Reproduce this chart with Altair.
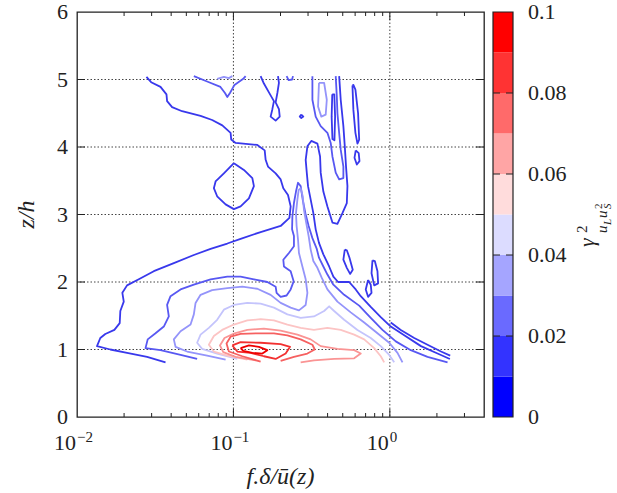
import altair as alt
import pandas as pd

SERIF = "Liberation Serif"
INK = "#222222"

# contour levels of the coherence and the colour of each level
LEVELS = [0.01, 0.02, 0.03, 0.04, 0.05, 0.06, 0.07, 0.08, 0.09]
LEVEL_COLORS = ["#3838ec", "#5858f2", "#9494fa", "#c4c4fc", "#fcc4c4",
                "#fa9494", "#f66060", "#f23030", "#ee0000"]

# colour bar bands (lower edge, upper edge, colour)
CB_LO = [0.00, 0.01, 0.02, 0.03, 0.04, 0.05, 0.06, 0.07, 0.08, 0.09]
CB_HI = [0.01, 0.02, 0.03, 0.04, 0.05, 0.06, 0.07, 0.08, 0.09, 0.10]
CB_COLORS = ["#0000ff", "#3333ff", "#6a6aff", "#a5a5ff", "#dcdcff",
             "#ffdcdc", "#ffa5a5", "#ff6a6a", "#ff3333", "#ff0000"]
CB_TICKS = [0.02, 0.04, 0.06, 0.08]
CB_LABELS = [0, 0.02, 0.04, 0.06, 0.08, 0.1]
CB_LABEL_TEXT = ["0", "0.02", "0.04", "0.06", "0.08", "0.1"]

# axis values
X_LABELS = [0.01, 0.1, 1.0]
X_EXPONENTS = ["\u22122", "\u22121", "0"]
X_MAJOR = [0.1, 1.0]
X_MINOR = [0.02, 0.03, 0.04, 0.05, 0.06, 0.07, 0.08, 0.09,
           0.2, 0.3, 0.4, 0.5, 0.6, 0.7, 0.8, 0.9, 2.0, 3.0]
Z_GRID = [1, 2, 3, 4, 5]
Z_LABELS = [0, 1, 2, 3, 4, 5, 6]

# contour paths as (log10 f, z/h) vertices
c1_outer = [(-1.556, 5.04), (-1.526, 4.96), (-1.466, 4.89), (-1.428, 4.78), (-1.424, 4.68),
            (-1.392, 4.59), (-1.328, 4.53), (-1.210, 4.46), (-1.136, 4.40), (-1.071, 4.32),
            (-1.018, 4.21), (-1.014, 4.11), (-0.986, 4.06), (-0.847, 4.03), (-0.800, 3.95),
            (-0.794, 3.81), (-0.779, 3.71), (-0.730, 3.61), (-0.698, 3.52), (-0.681, 3.39),
            (-0.651, 3.29), (-0.634, 3.12), (-0.642, 2.95), (-0.698, 2.83), (-0.826, 2.74),
            (-0.954, 2.64), (-1.039, 2.57), (-1.146, 2.49), (-1.253, 2.40), (-1.381, 2.28),
            (-1.509, 2.16), (-1.605, 2.04), (-1.680, 1.95), (-1.710, 1.84), (-1.701, 1.71),
            (-1.723, 1.57), (-1.727, 1.39), (-1.761, 1.29), (-1.819, 1.23), (-1.851, 1.17),
            (-1.872, 1.05), (-1.787, 1.00), (-1.680, 0.95), (-1.552, 0.89), (-1.434, 0.81)]
c1_island = [(-0.997, 3.76), (-0.933, 3.66), (-0.879, 3.54), (-0.869, 3.42), (-0.901, 3.24),
             (-0.954, 3.12), (-0.997, 3.08), (-1.050, 3.15), (-1.104, 3.27), (-1.125, 3.39),
             (-1.114, 3.49), (-1.061, 3.61), (-0.997, 3.76)]
c1_eight = [(-0.826, 5.05), (-0.805, 4.94), (-0.773, 4.81), (-0.741, 4.68), (-0.751, 4.56),
            (-0.762, 4.45), (-0.730, 4.39), (-0.704, 4.45), (-0.709, 4.56), (-0.730, 4.66),
            (-0.719, 4.80), (-0.709, 4.95), (-0.715, 5.05)]
c1_dot = [(-0.566, 4.48), (-0.553, 4.45), (-0.566, 4.43), (-0.576, 4.45), (-0.566, 4.48)]
c1_neck = [(-0.324, 5.05), (-0.314, 4.70), (-0.297, 4.31), (-0.288, 4.01), (-0.280, 3.71),
           (-0.271, 3.42), (-0.275, 3.17), (-0.303, 3.02), (-0.335, 2.86), (-0.367, 2.88),
           (-0.399, 3.12), (-0.425, 3.34), (-0.442, 3.62), (-0.446, 3.86), (-0.463, 4.05),
           (-0.502, 4.09), (-0.527, 4.01), (-0.538, 3.81), (-0.531, 3.62), (-0.523, 3.42),
           (-0.506, 3.22), (-0.489, 3.02), (-0.474, 2.78), (-0.453, 2.58), (-0.425, 2.41),
           (-0.388, 2.23), (-0.361, 2.08), (-0.331, 2.00), (-0.260, 2.00), (-0.218, 1.89),
           (-0.186, 1.79), (-0.122, 1.63), (-0.058, 1.48), (0.006, 1.34), (0.092, 1.21),
           (0.199, 1.05), (0.305, 0.94), (0.384, 0.86)]
c1_tail = [(0.006, 1.40), (0.070, 1.29), (0.156, 1.17), (0.241, 1.07), (0.327, 0.97), (0.386, 0.91)]
c1_strip = [(-0.368, 4.78), (-0.372, 4.45), (-0.367, 4.12), (-0.354, 4.10), (-0.350, 4.45),
            (-0.355, 4.78), (-0.368, 4.78)]
c1_needle = [(-0.239, 4.91), (-0.233, 4.55), (-0.220, 4.21), (-0.207, 4.05), (-0.196, 4.11),
             (-0.203, 4.50), (-0.220, 4.85), (-0.233, 4.92), (-0.239, 4.91)]
c1_drop = [(-0.218, 3.95), (-0.226, 3.84), (-0.211, 3.74), (-0.194, 3.79), (-0.199, 3.91),
           (-0.218, 3.95)]
c1_loop_a = [(-0.288, 2.48), (-0.297, 2.33), (-0.275, 2.21), (-0.254, 2.12), (-0.237, 2.18),
             (-0.258, 2.36), (-0.275, 2.47), (-0.288, 2.48)]
c1_loop_b = [(-0.111, 2.32), (-0.117, 2.13), (-0.100, 1.95), (-0.075, 1.98), (-0.079, 2.16),
             (-0.096, 2.31), (-0.111, 2.32)]
c1_loop_c = [(-0.139, 2.03), (-0.154, 1.89), (-0.139, 1.78), (-0.117, 1.84), (-0.122, 1.96),
             (-0.139, 2.03)]

c2_main = [(-1.232, 0.86), (-1.338, 0.92), (-1.466, 0.99), (-1.562, 1.02), (-1.548, 1.15),
           (-1.498, 1.24), (-1.445, 1.34), (-1.413, 1.49), (-1.424, 1.66), (-1.402, 1.79),
           (-1.338, 1.89), (-1.253, 1.96), (-1.146, 2.04), (-1.039, 2.08), (-0.954, 2.08),
           (-0.869, 2.04), (-0.783, 2.00), (-0.730, 1.93), (-0.724, 1.84), (-0.698, 1.78),
           (-0.660, 1.80), (-0.634, 1.89), (-0.615, 2.01), (-0.634, 2.16), (-0.677, 2.23),
           (-0.681, 2.33), (-0.645, 2.43), (-0.613, 2.53), (-0.613, 2.68), (-0.625, 2.78),
           (-0.623, 2.97), (-0.613, 3.17), (-0.600, 3.34), (-0.587, 3.47), (-0.570, 3.42),
           (-0.557, 3.22), (-0.540, 3.02), (-0.519, 2.83), (-0.495, 2.65), (-0.467, 2.49),
           (-0.453, 2.36), (-0.425, 2.23), (-0.399, 2.11), (-0.361, 1.96), (-0.292, 1.81),
           (-0.196, 1.65), (-0.122, 1.47), (-0.047, 1.29), (0.038, 1.12), (0.134, 0.99),
           (0.241, 0.89), (0.369, 0.81)]
c2_upper = [(-0.495, 5.05), (-0.495, 4.70), (-0.474, 4.45), (-0.442, 4.31), (-0.399, 4.21),
            (-0.378, 4.06), (-0.367, 3.86), (-0.346, 3.62), (-0.324, 3.52), (-0.297, 3.54),
            (-0.297, 3.71), (-0.314, 3.96), (-0.324, 4.21), (-0.335, 4.50), (-0.339, 4.75),
            (-0.346, 5.05)]
c2_hook = [(-0.660, 5.05), (-0.647, 4.99), (-0.625, 5.00), (-0.619, 5.05)]
c2_vee = [(-1.253, 5.05), (-1.168, 4.97), (-1.083, 4.89), (-1.054, 4.80), (-1.039, 4.74),
          (-1.022, 4.80), (-0.993, 4.92), (-0.937, 5.01), (-0.922, 5.05)]

c3_main = [(-1.050, 0.85), (-1.168, 0.91), (-1.296, 0.97), (-1.370, 1.04), (-1.381, 1.15),
           (-1.338, 1.27), (-1.274, 1.37), (-1.253, 1.52), (-1.242, 1.69), (-1.210, 1.81),
           (-1.136, 1.88), (-1.039, 1.91), (-0.943, 1.93), (-0.847, 1.90), (-0.762, 1.81),
           (-0.698, 1.69), (-0.634, 1.62), (-0.581, 1.58), (-0.538, 1.66), (-0.527, 1.84),
           (-0.538, 2.04), (-0.559, 2.23), (-0.581, 2.43), (-0.587, 2.63), (-0.596, 2.83),
           (-0.600, 3.02), (-0.591, 3.22), (-0.583, 3.36), (-0.570, 3.39), (-0.557, 3.27),
           (-0.549, 3.07), (-0.534, 2.87), (-0.519, 2.68), (-0.506, 2.48), (-0.489, 2.31),
           (-0.463, 2.21), (-0.435, 2.06), (-0.399, 1.89), (-0.335, 1.71), (-0.250, 1.55),
           (-0.164, 1.40), (-0.079, 1.24), (-0.004, 1.10), (0.049, 0.95), (0.081, 0.81)]
c3_upper = [(-0.453, 4.95), (-0.459, 4.60), (-0.438, 4.45), (-0.410, 4.48), (-0.403, 4.70),
            (-0.420, 4.95), (-0.453, 4.95)]
c3_wisp = [(-1.104, 5.01), (-1.061, 5.04), (-1.029, 5.02), (-1.007, 5.05)]

c4_main = [(-0.975, 0.86), (-1.104, 0.94), (-1.200, 1.01), (-1.232, 1.10), (-1.210, 1.22),
           (-1.157, 1.32), (-1.104, 1.44), (-1.061, 1.59), (-0.997, 1.66), (-0.911, 1.69),
           (-0.826, 1.68), (-0.741, 1.62), (-0.655, 1.52), (-0.570, 1.47), (-0.485, 1.49),
           (-0.420, 1.57), (-0.388, 1.64), (-0.356, 1.57), (-0.292, 1.44), (-0.207, 1.29),
           (-0.122, 1.17), (-0.058, 1.05), (-0.004, 0.92), (0.028, 0.81)]

c5_main = [(-0.911, 0.85), (-1.039, 0.91), (-1.125, 0.97), (-1.157, 1.07), (-1.125, 1.20),
           (-1.072, 1.29), (-0.997, 1.37), (-0.911, 1.43), (-0.826, 1.45), (-0.741, 1.43),
           (-0.655, 1.37), (-0.570, 1.32), (-0.485, 1.29), (-0.399, 1.32), (-0.314, 1.29),
           (-0.228, 1.22), (-0.164, 1.15), (-0.100, 1.02), (-0.058, 0.90), (-0.036, 0.81)]

c6_main = [(-0.858, 0.84), (-0.986, 0.89), (-1.065, 0.96), (-1.086, 1.06), (-1.057, 1.17),
           (-0.993, 1.24), (-0.911, 1.29), (-0.805, 1.31), (-0.698, 1.28), (-0.591, 1.22),
           (-0.506, 1.15), (-0.442, 1.05), (-0.335, 1.01), (-0.228, 0.99), (-0.186, 0.94),
           (-0.228, 0.87), (-0.356, 0.86), (-0.485, 0.84), (-0.570, 0.81)]

c7_main = [(-0.826, 0.82), (-0.943, 0.90), (-1.029, 0.97), (-1.044, 1.09), (-1.018, 1.19),
           (-0.954, 1.23), (-0.847, 1.24), (-0.741, 1.24), (-0.655, 1.21), (-0.570, 1.15),
           (-0.495, 1.07), (-0.480, 1.00), (-0.527, 0.94), (-0.613, 0.89), (-0.698, 0.83)]

c8_main = [(-1.007, 1.06), (-0.954, 1.11), (-0.826, 1.10), (-0.698, 1.08), (-0.638, 1.04),
           (-0.666, 0.94), (-0.730, 0.86), (-0.805, 0.90), (-0.890, 0.95), (-0.975, 0.97),
           (-1.007, 1.06)]

c9_main = [(-0.954, 1.02), (-0.901, 1.06), (-0.837, 1.04), (-0.783, 0.99), (-0.815, 0.94),
           (-0.879, 0.95), (-0.937, 0.98), (-0.954, 1.02)]

PATHS = [
    (0.01, c1_outer), (0.01, c1_island), (0.01, c1_eight), (0.01, c1_dot), (0.01, c1_neck),
    (0.01, c1_tail), (0.01, c1_strip), (0.01, c1_needle), (0.01, c1_drop),
    (0.01, c1_loop_a), (0.01, c1_loop_b), (0.01, c1_loop_c),
    (0.02, c2_main), (0.02, c2_upper), (0.02, c2_hook), (0.02, c2_vee),
    (0.03, c3_main), (0.03, c3_upper), (0.03, c3_wisp),
    (0.04, c4_main), (0.05, c5_main), (0.06, c6_main),
    (0.07, c7_main), (0.08, c8_main), (0.09, c9_main),
]

rows = []
for pid, (level, pts) in enumerate(PATHS):
    for k, (lf, z) in enumerate(pts):
        rows.append({"path": pid, "k": k, "f": 10 ** lf, "z": z, "level": level})
contour_df = pd.DataFrame(rows)

W, H = 407, 405
xs = alt.Scale(type="log", domain=[0.01, 4.0], nice=False)
ys = alt.Scale(domain=[0, 6], nice=False)
cbs = alt.Scale(domain=[0, 0.1], nice=False, zero=False)


def fx(field="f"):
    return alt.X(f"{field}:Q", scale=xs, axis=None)


def fz(field="z"):
    return alt.Y(f"{field}:Q", scale=ys, axis=None)


grid_style = dict(color="#444444", strokeWidth=1, strokeDash=[1.5, 2])
grid_x = alt.Chart(pd.DataFrame({"f": X_MAJOR})).mark_rule(**grid_style).encode(x=fx())
grid_z = alt.Chart(pd.DataFrame({"z": Z_GRID})).mark_rule(**grid_style).encode(y=fz())

contours = alt.Chart(contour_df).mark_line(strokeWidth=1.8, strokeJoin="round").encode(
    x=fx(),
    y=fz(),
    detail="path:N",
    order="k:Q",
    color=alt.Color("level:O", scale=alt.Scale(domain=LEVELS, range=LEVEL_COLORS), legend=None),
)

# inward ticks on all four sides of the frame
tick_style = dict(color=INK, strokeWidth=1)
maj_df = pd.DataFrame({"f": X_MAJOR})
min_df = pd.DataFrame({"f": X_MINOR})
z_df = pd.DataFrame({"z": Z_GRID})
ticks = [
    alt.Chart(maj_df).mark_rule(**tick_style).encode(x=fx(), y=alt.value(H), y2=alt.value(H - 8)),
    alt.Chart(maj_df).mark_rule(**tick_style).encode(x=fx(), y=alt.value(0), y2=alt.value(8)),
    alt.Chart(min_df).mark_rule(**tick_style).encode(x=fx(), y=alt.value(H), y2=alt.value(H - 4)),
    alt.Chart(min_df).mark_rule(**tick_style).encode(x=fx(), y=alt.value(0), y2=alt.value(4)),
    alt.Chart(z_df).mark_rule(**tick_style).encode(y=fz(), x=alt.value(0), x2=alt.value(8)),
    alt.Chart(z_df).mark_rule(**tick_style).encode(y=fz(), x=alt.value(W - 8), x2=alt.value(W)),
]

# decade labels 10^n along x
xl_df = pd.DataFrame({"f": X_LABELS, "base": ["10"] * 3, "exp": X_EXPONENTS})
x_base = alt.Chart(xl_df).mark_text(
    font=SERIF, fontSize=22, color=INK, align="right", baseline="alphabetic", dx=-1
).encode(x=fx(), y=alt.value(H + 33), text="base:N")
x_exp = alt.Chart(xl_df).mark_text(
    font=SERIF, fontSize=15, color=INK, align="left", baseline="alphabetic", dx=0
).encode(x=fx(), y=alt.value(H + 25), text="exp:N")

# z/h labels along y
y_labels = alt.Chart(pd.DataFrame({"z": Z_LABELS})).mark_text(
    font=SERIF, fontSize=22, color=INK, align="right", baseline="middle", dx=-9
).encode(x=alt.value(0), y=fz(), text=alt.Text("z:Q", format="d"))

x_title = alt.Chart(pd.DataFrame({"t": ["f.\u03b4/\u016b(z)"]})).mark_text(
    font=SERIF, fontSize=24, fontStyle="italic", color=INK, align="center", baseline="alphabetic"
).encode(x=alt.value(W / 2), y=alt.value(H + 67), text="t:N")
y_title = alt.Chart(pd.DataFrame({"t": ["z/h"]})).mark_text(
    font=SERIF, fontSize=24, fontStyle="italic", color=INK, align="center", baseline="alphabetic",
    angle=270,
).encode(x=alt.value(-43), y=alt.value(H / 2), text="t:N")

main = alt.layer(grid_x, grid_z, contours, *ticks, x_base, x_exp, y_labels)

# colour bar
CB_X0, CB_X1 = W + 9, W + 29
cb_df = pd.DataFrame({"lo": CB_LO, "hi": CB_HI, "c": CB_COLORS})
cb_y = alt.Y("lo:Q", scale=cbs, axis=None)
cb_bands = alt.Chart(cb_df).mark_rect().encode(
    x=alt.value(CB_X0), x2=alt.value(CB_X1), y=cb_y, y2="hi:Q",
    color=alt.Color("c:N", scale=None),
)
cb_ticks = alt.Chart(pd.DataFrame({"lo": CB_TICKS})).mark_rule(
    color=INK, strokeWidth=1, strokeDash=[7, 6]
).encode(x=alt.value(CB_X0), x2=alt.value(CB_X1), y=cb_y)
cb_frame = alt.Chart(pd.DataFrame({"lo": [0.0], "hi": [0.1]})).mark_rect(
    fill=None, stroke=INK, strokeWidth=1.2
).encode(x=alt.value(CB_X0), x2=alt.value(CB_X1), y=cb_y, y2="hi:Q")
cb_labels = alt.Chart(pd.DataFrame({"lo": CB_LABELS, "t": CB_LABEL_TEXT})).mark_text(
    font=SERIF, fontSize=22, color=INK, align="left", baseline="middle", dx=15
).encode(x=alt.value(CB_X1), y=cb_y, text="t:N")
cbar = alt.layer(cb_bands, cb_ticks, cb_frame, cb_labels)


# colour bar title: gamma^2 with subscript u_L u_S^2, written bottom to top
def title_piece(text, px, py, size, italic=True):
    return alt.Chart(pd.DataFrame({"t": [text]})).mark_text(
        font=SERIF, fontSize=size, fontStyle="italic" if italic else "normal",
        color=INK, angle=270, align="left", baseline="alphabetic",
    ).encode(x=alt.value(px), y=alt.value(py), text="t:N")


cb_title = [
    title_piece("\u03b3", 517, 235, 22),
    title_piece("2", 510, 221, 15, italic=False),
    title_piece("u", 530, 221, 15),
    title_piece("L", 534, 213, 11),
    title_piece("u", 530, 206, 15),
    title_piece("S", 534, 197, 11),
    title_piece("2", 525, 197, 11, italic=False),
]

chart = alt.layer(main, cbar, x_title, y_title, *cb_title).resolve_scale(y="independent").properties(
    width=W, height=H,
    autosize=alt.AutoSizeParams(type="none"),
    padding={"left": 77, "top": 12, "right": 133, "bottom": 76},
    background="white",
).configure_view(stroke=INK, strokeWidth=1.3)

chart.save("out.html", embed_options={"renderer": "svg", "actions": False})
